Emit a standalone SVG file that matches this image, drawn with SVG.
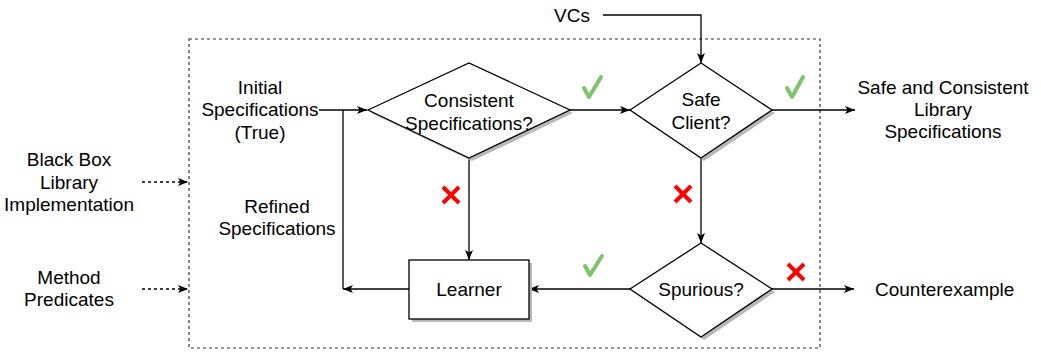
<svg xmlns="http://www.w3.org/2000/svg" width="1041" height="352" viewBox="0 0 1041 352">
  <style>
    text { font-family: "Liberation Sans", Arial, Helvetica, sans-serif; font-size: 19px; fill: #000; }
    .mid { text-anchor: middle; }
    .shape { fill: #fff; stroke: #000; stroke-width: 1.3; }
    .shadow { fill: #b8b8b8; stroke: none; }
    .edge { fill: none; stroke: #000; stroke-width: 1.3; }
    .dotted { fill: none; stroke: #000; stroke-width: 1.3; stroke-dasharray: 3 3; }
    .frame { fill: none; stroke: #333; stroke-width: 1.2; stroke-dasharray: 3 3; }
    .yes { fill: none; stroke: #7ec46c; stroke-width: 4; stroke-linecap: round; stroke-linejoin: round; }
    .no { fill: none; stroke: #ff0000; stroke-width: 4; stroke-linecap: butt; }
  </style>
  <defs>
    <marker id="arrow" markerUnits="userSpaceOnUse" markerWidth="12" markerHeight="10" refX="10" refY="4" orient="auto">
      <path d="M0,0 L10,4 L0,8 L2.5,4 Z" fill="#000"/>
    </marker>
  </defs>

  <!-- system boundary -->
  <rect id="boundary" class="frame" x="189" y="39" width="631" height="309"/>

  <!-- connectors -->
  <g id="connectors">
    <path class="edge" d="M603,15 H701 V63" marker-end="url(#arrow)"/>
    <path class="edge" d="M319,110 H367" marker-end="url(#arrow)"/>
    <path class="edge" d="M343,110 V289"/>
    <path class="edge" d="M570,110 H630" marker-end="url(#arrow)"/>
    <path class="edge" d="M772,110 H855" marker-end="url(#arrow)"/>
    <path class="edge" d="M469,158 V260" marker-end="url(#arrow)"/>
    <path class="edge" d="M701,158 V243" marker-end="url(#arrow)"/>
    <path class="edge" d="M630,289 H529" marker-end="url(#arrow)"/>
    <path class="edge" d="M409,289 H343" marker-end="url(#arrow)"/>
    <path class="edge" d="M772,289 H854" marker-end="url(#arrow)"/>
    <path class="dotted" d="M142,182 H188" marker-end="url(#arrow)"/>
    <path class="dotted" d="M142,289 H188" marker-end="url(#arrow)"/>
  </g>

  <!-- decision: consistency check -->
  <g id="consistent">
    <path class="shadow" d="M371,113 L472,66 L573,113 L472,161 Z"/>
    <path class="shape" d="M368,110 L469,63 L570,110 L469,158 Z"/>
    <text class="mid" x="469" y="107">Consistent</text>
    <text class="mid" x="469" y="130">Specifications?</text>
  </g>

  <!-- decision: client safety -->
  <g id="safe">
    <path class="shadow" d="M633,113 L704,66 L775,113 L704,161 Z"/>
    <path class="shape" d="M630,110 L701,63 L772,110 L701,158 Z"/>
    <text class="mid" x="701" y="106">Safe</text>
    <text class="mid" x="701" y="129">Client?</text>
  </g>

  <!-- decision: spurious counterexample -->
  <g id="spurious">
    <path class="shadow" d="M633,292 L704,246 L775,292 L704,340 Z"/>
    <path class="shape" d="M630,289 L701,243 L772,289 L701,337 Z"/>
    <text class="mid" x="701" y="296">Spurious?</text>
  </g>

  <!-- learner -->
  <g id="learner">
    <rect class="shadow" x="412" y="263" width="120" height="59"/>
    <rect class="shape" x="409" y="260" width="120" height="59"/>
    <text class="mid" x="469" y="296">Learner</text>
  </g>

  <!-- free labels -->
  <g id="vcs"><text class="mid" x="572" y="22">VCs</text></g>
  <g id="initial">
    <text class="mid" x="260" y="94">Initial</text>
    <text class="mid" x="260" y="116">Specifications</text>
    <text class="mid" x="260" y="139">(True)</text>
  </g>
  <g id="refined">
    <text class="mid" x="277" y="213">Refined</text>
    <text class="mid" x="277" y="235">Specifications</text>
  </g>
  <g id="blackbox">
    <text class="mid" x="69" y="166">Black Box</text>
    <text class="mid" x="69" y="189">Library</text>
    <text class="mid" x="69" y="211">Implementation</text>
  </g>
  <g id="predicates">
    <text class="mid" x="69" y="284">Method</text>
    <text class="mid" x="69" y="306">Predicates</text>
  </g>
  <g id="result">
    <text class="mid" x="943" y="94">Safe and Consistent</text>
    <text class="mid" x="943" y="116">Library</text>
    <text class="mid" x="943" y="138">Specifications</text>
  </g>
  <g id="counterexample"><text x="875" y="296">Counterexample</text></g>

  <!-- outcome marks -->
  <g id="marks">
    <path class="yes" d="M584,88 L589,97 L601,77"/>
    <path class="yes" d="M787,88 L792,97 L803,77"/>
    <path class="yes" d="M585,266 L590,275 L602,256"/>
    <path class="no" d="M443,187 L459,203 M459,187 L443,203"/>
    <path class="no" d="M675,186 L691,202 M691,186 L675,202"/>
    <path class="no" d="M788,264 L804,280 M804,264 L788,280"/>
  </g>
</svg>
